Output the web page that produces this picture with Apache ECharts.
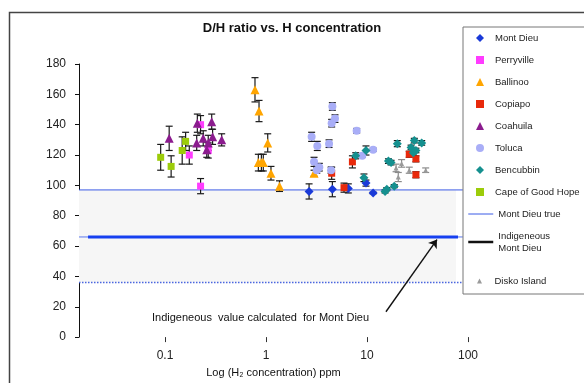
<!DOCTYPE html>
<html>
<head>
<meta charset="utf-8">
<script src="https://cdn.jsdelivr.net/npm/echarts@6/dist/echarts.min.js"></script>
<style>
  html, body { margin: 0; padding: 0; background: #fff; }
  #chart { width: 584px; height: 383px; }
</style>
</head>
<body>
<div id="chart"></div>
<script>
// H concentration (ppm), D/H ratio and error half-width per meteorite
const montDieuH = [2.67, 4.54, 6.53, 9.77, 11.5];
const montDieuDH = [96, 97.5, 98, 101.5, 95];
const montDieuErr = [5, 5, 3, 2, 0.5];

const perryvilleH = [0.225, 0.174, 0.268, 0.225];
const perryvilleDH = [140, 120, 123, 99.5];
const perryvilleErr = [6, 6, 5, 5];

const ballinooH = [0.778, 0.853, 1.04, 0.84, 0.9, 0.94, 1.12, 1.36, 2.99];
const ballinooDH = [163, 149, 128, 115, 115, 115, 108, 99.5, 108];
const ballinooErr = [8, 7, 6, 5.5, 5.5, 5.5, 4.5, 3.5, 2];

const copiapoH = [4.47, 7.17, 5.92, 26.2, 30.5, 30.5];
const copiapoDH = [108, 115.5, 98.5, 120.5, 117.5, 107];
const copiapoErr = [4, 4, 3, 2, 2, 2];

const coahuilaH = [0.11, 0.209, 0.29, 0.239, 0.206, 0.296, 0.364, 0.268, 0.259];
const coahuilaDH = [131, 141, 142, 131, 128, 132, 130, 128, 123.5];
const coahuilaErr = [8, 6, 5, 5, 5, 5, 4, 5, 5];

const tolucaH = [4.54, 4.82, 4.47, 2.83, 3.22, 4.21, 7.9, 2.99, 3.37, 3.18, 4.41, 8.97, 11.5];
const tolucaDH = [152, 144, 141, 132, 126, 127.5, 136, 115.5, 112, 110, 110, 119.5, 123.5];
const tolucaErr = [2.5, 2.5, 2.5, 3, 3, 2.5, 1.5, 3, 2.5, 2, 2, 1, 1];

const bencubbinH = [7.73, 9.77, 9.33, 19.95, 29.4, 34.8, 27.3, 28.8, 30.5, 16.3, 17.3, 15.7, 18.6, 15.1];
const bencubbinDH = [119.5, 123, 105, 127.5, 129.5, 128, 125, 121.5, 123, 116, 115, 97.5, 99.5, 96];
const bencubbinErr = [2, 3, 2.5, 2, 1.5, 1.5, 1.5, 1.5, 1.5, 1.5, 1.5, 1, 1, 1];

const capeH = [0.0906, 0.115, 0.148, 0.16];
const capeDH = [118.5, 112.5, 123, 129];
const capeErr = [8.5, 7, 9, 6];

const diskoH = [22.0, 19.4, 20.4, 26.2, 38.1];
const diskoDH = [114.5, 111.5, 105.5, 110, 110];
const diskoErr = [2.5, 2.5, 3, 2, 1.5];

// reference levels
const montDieuTrue = 97;
const indigenous = 66;
const lowerLimit = 36;

const xTicks = ['0.1', '1', '10', '100'];

const xMin = 0.014077;
const xMax = 100;
const lineEnd = 89;
const thickStart = 0.0173;
const thickEnd = 79.6;
const bandEnd = 76;

const FONT = 'Liberation Sans, Arial, sans-serif';
const legendText = { fontFamily: FONT, fontSize: 9.5, lineHeight: 12, color: '#222' };

// square-aspect legend icons
const ICONS = {
  diamond: 'path://M5,0L10,5L5,10L0,5Z',
  rect: 'path://M1,1H9V9H1Z',
  triangle: 'path://M5,0L10,10L0,10Z',
  circle: 'path://M5,0A5,5,0,1,1,4.99,0Z'
};

const groups = [
  { name: 'Mont Dieu', h: montDieuH, dh: montDieuDH, err: montDieuErr, symbol: 'diamond', size: 9, color: '#1a3ad8' },
  { name: 'Perryville', h: perryvilleH, dh: perryvilleDH, err: perryvilleErr, symbol: 'rect', size: 7, color: '#ff3cff' },
  { name: 'Ballinoo', h: ballinooH, dh: ballinooDH, err: ballinooErr, symbol: 'triangle', size: 9, color: '#ffa500' },
  { name: 'Copiapo', h: copiapoH, dh: copiapoDH, err: copiapoErr, symbol: 'rect', size: 7, color: '#e8290b' },
  { name: 'Coahuila', h: coahuilaH, dh: coahuilaDH, err: coahuilaErr, symbol: 'triangle', size: 9, color: '#8b1c8e' },
  { name: 'Toluca', h: tolucaH, dh: tolucaDH, err: tolucaErr, symbol: 'circle', size: 8, color: '#a9aef7' },
  { name: 'Bencubbin', h: bencubbinH, dh: bencubbinDH, err: bencubbinErr, symbol: 'diamond', size: 9, color: '#15908f' },
  { name: 'Cape of Good Hope', h: capeH, dh: capeDH, err: capeErr, symbol: 'rect', size: 7, color: '#9ccc0a' },
  { name: 'Disko Island', h: diskoH, dh: diskoDH, err: diskoErr, symbol: 'triangle', size: 5, color: '#9a9a9a', errColor: '#8a8a8a' }
];

function errorBar(color) {
  return function (params, api) {
    const x = api.value(0), y = api.value(1), e = api.value(2);
    const top = api.coord([x, y + e]);
    const bot = api.coord([x, y - e]);
    const w = 3.5;
    const style = { stroke: color, lineWidth: 1.2 };
    return {
      type: 'group',
      children: [
        { type: 'line', shape: { x1: top[0], y1: top[1], x2: bot[0], y2: bot[1] }, style: style },
        { type: 'line', shape: { x1: top[0] - w, y1: top[1], x2: top[0] + w, y2: top[1] }, style: style },
        { type: 'line', shape: { x1: bot[0] - w, y1: bot[1], x2: bot[0] + w, y2: bot[1] }, style: style }
      ]
    };
  };
}

const series = [];

series.push({
  name: 'Mont Dieu true',
  type: 'line',
  data: [[xMin, montDieuTrue], [lineEnd, montDieuTrue]],
  symbol: 'none',
  lineStyle: { color: '#3b5be6', width: 1 },
  itemStyle: { color: '#3b5be6' },
  z: 1,
  markArea: {
    silent: true,
    itemStyle: { color: '#f6f6f6' },
    data: [[{ coord: [xMin, lowerLimit] }, { coord: [bandEnd, montDieuTrue] }]]
  }
});
series.push({
  name: 'lower limit',
  type: 'line',
  data: [[xMin, lowerLimit], [lineEnd, lowerLimit]],
  symbol: 'none',
  lineStyle: { color: '#4a66e0', width: 1.5, type: 'dotted' },
  z: 1
});
series.push({
  name: 'indigenous thin',
  type: 'line',
  data: [[xMin, indigenous], [lineEnd, indigenous]],
  symbol: 'none',
  lineStyle: { color: '#5a78ee', width: 1 },
  z: 1
});
series.push({
  name: 'Indigeneous Mont Dieu',
  type: 'line',
  data: [[thickStart, indigenous], [thickEnd, indigenous]],
  symbol: 'none',
  lineStyle: { color: '#1640f0', width: 3 },
  itemStyle: { color: '#1640f0' },
  z: 1,
  markLine: {
    silent: true,
    symbol: ['none', 'arrow'],
    symbolSize: 8,
    label: { show: false },
    lineStyle: { color: '#111', width: 1.4, type: 'solid' },
    data: [[{ coord: [15.4, 16.7] }, { coord: [49.3, 64.3] }]]
  }
});

groups.forEach(function (g) {
  series.push({
    name: g.name + ' err',
    type: 'custom',
    renderItem: errorBar(g.errColor || '#1a1a1a'),
    data: g.h.map(function (v, i) { return [v, g.dh[i], g.err[i]]; }),
    encode: { x: 0, y: 1 },
    silent: true,
    z: 2
  });
});
groups.forEach(function (g) {
  series.push({
    name: g.name,
    type: 'scatter',
    symbol: g.symbol,
    symbolSize: g.size,
    itemStyle: { color: g.color, opacity: 1 },
    data: g.h.map(function (v, i) { return [v, g.dh[i]]; }),
    z: 3
  });
});

const symbolLegend = groups.slice(0, 8).map(function (g) {
  return { name: g.name, icon: ICONS[g.symbol] };
});

const chart = echarts.init(document.getElementById('chart'));
chart.setOption({
  animation: false,
  backgroundColor: '#fff',
  title: {
    text: 'D/H ratio vs. H concentration',
    left: 'center',
    top: 22,
    padding: 0,
    textStyle: { fontFamily: FONT, fontSize: 13, fontWeight: 'bold', color: '#111' }
  },
  graphic: [
    {
      type: 'rect', left: 7, top: 10, silent: true, z: -10,
      shape: { width: 700, height: 500 },
      style: { fill: 'none', stroke: '#444', lineWidth: 1.5 }
    },
    {
      type: 'text', left: 152, top: 312, silent: true,
      style: { text: 'Indigeneous  value calculated  for Mont Dieu', font: '11px ' + FONT, fill: '#111' }
    }
  ],
  legend: [
    {
      // symbol entries, also draws the legend box
      orient: 'vertical',
      left: 463,
      top: 27,
      padding: [5, 60, 96, 13],
      itemGap: 10,
      itemWidth: 20,
      itemHeight: 8,
      symbolKeepAspect: true,
      borderColor: '#777',
      borderWidth: 1,
      backgroundColor: '#fff',
      selectedMode: false,
      textStyle: legendText,
      data: symbolLegend
    },
    {
      // line entries
      orient: 'vertical',
      left: 467,
      top: 208,
      padding: 0,
      itemGap: 10,
      itemWidth: 25,
      itemHeight: 8,
      selectedMode: false,
      z: 6,
      textStyle: legendText,
      formatter: function (name) {
        return name === 'Indigeneous Mont Dieu' ? 'Indigeneous\nMont Dieu' : name;
      },
      data: [
        { name: 'Mont Dieu true', itemStyle: { color: 'transparent' }, lineStyle: { color: '#3b5be6', width: 1 } },
        { name: 'Indigeneous Mont Dieu', itemStyle: { color: 'transparent' }, lineStyle: { color: '#111', width: 2.5 } }
      ]
    },
    {
      orient: 'vertical',
      left: 477,
      top: 275,
      padding: 0,
      itemWidth: 20,
      itemHeight: 5,
      symbolKeepAspect: true,
      selectedMode: false,
      z: 6,
      textStyle: legendText,
      data: [{ name: 'Disko Island', icon: ICONS.triangle }]
    }
  ],
  grid: { left: 79, top: 64, width: 389, height: 280 },
  xAxis: {
    type: 'log',
    logBase: 10,
    min: xMin,
    max: xMax,
    name: 'Log (H\u2082 concentration) ppm',
    nameLocation: 'middle',
    nameGap: 28,
    nameTextStyle: { fontFamily: FONT, fontSize: 11, color: '#111' },
    axisLine: { show: false },
    axisTick: { show: true, length: 5, lineStyle: { color: '#333' } },
    splitLine: { show: false },
    axisLabel: {
      showMinLabel: false,
      showMaxLabel: true,
      margin: 13,
      fontFamily: FONT,
      fontSize: 12,
      color: '#222',
      formatter: function (v) {
        const k = Math.round(Math.log10(v)) + 1;
        return xTicks[k] !== undefined ? xTicks[k] : '';
      }
    }
  },
  yAxis: {
    type: 'value',
    min: 0,
    max: 180,
    interval: 20,
    axisLine: { show: true, lineStyle: { color: '#111', width: 1 } },
    axisTick: { show: true, length: 4, lineStyle: { color: '#111' } },
    splitLine: { show: false },
    axisLabel: { margin: 13, fontFamily: FONT, fontSize: 12, color: '#222' }
  },
  series: series
});
</script>
</body>
</html>
